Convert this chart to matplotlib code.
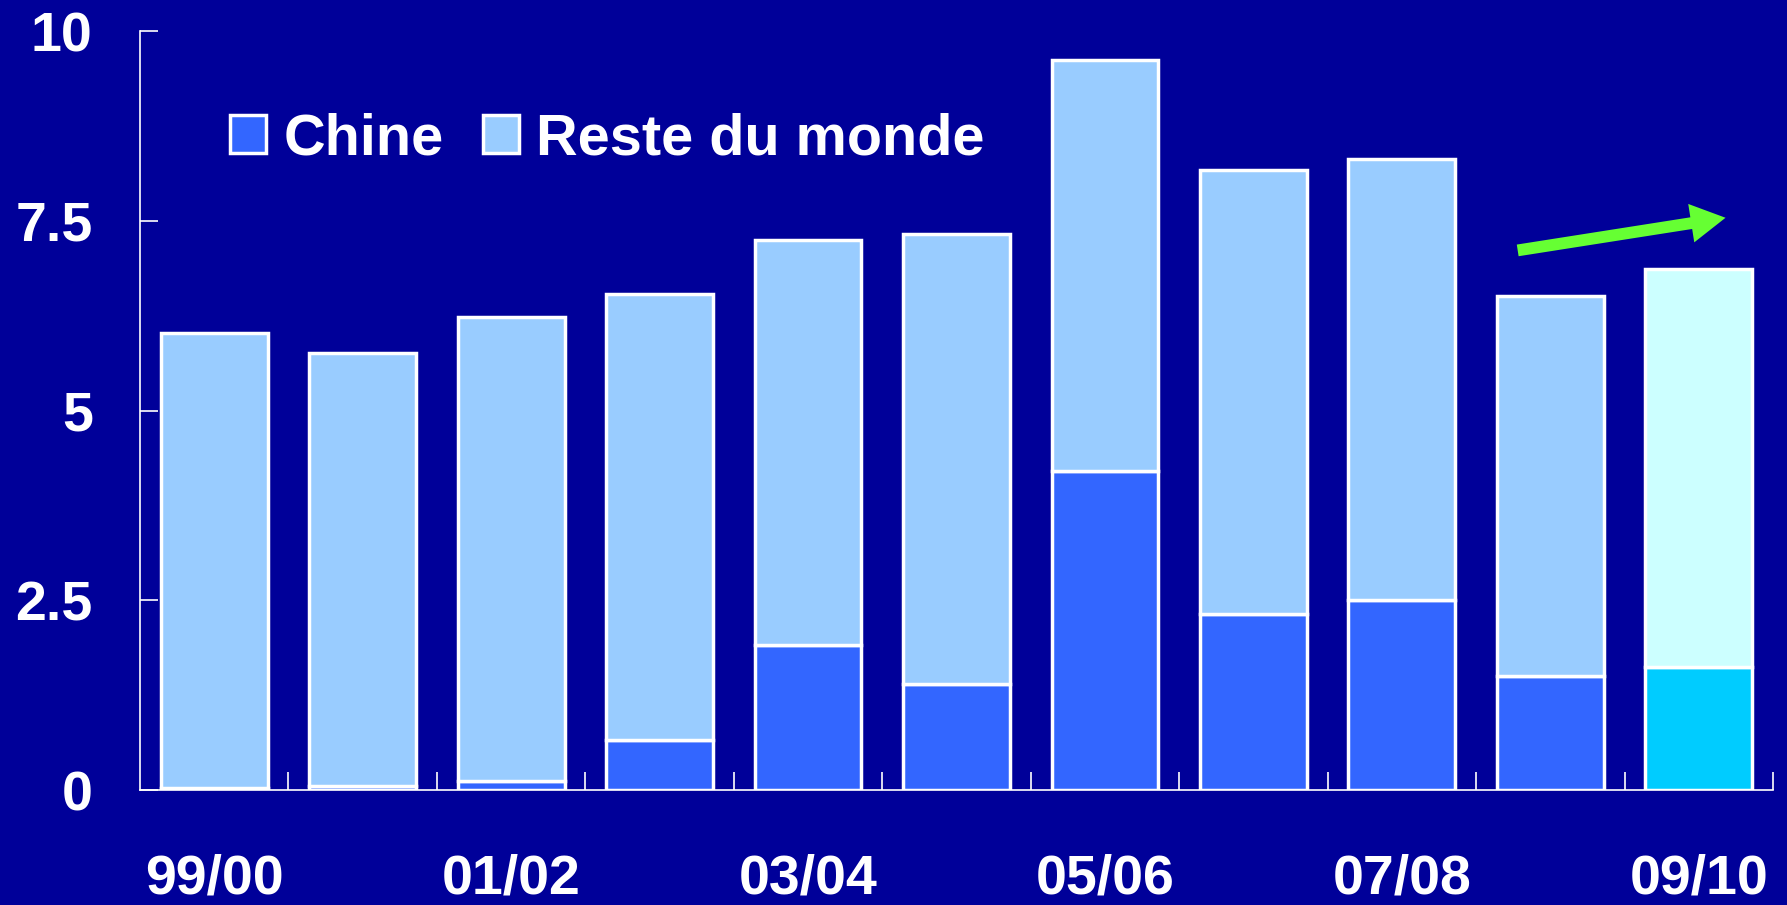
import matplotlib
matplotlib.use('Agg')
import matplotlib.pyplot as plt
import numpy as np

# %% données
campagnes = ['99/00', '00/01', '01/02', '02/03', '03/04', '04/05',
             '05/06', '06/07', '07/08', '08/09', '09/10']
chine = [0.03, 0.06, 0.12, 0.66, 1.91, 1.40, 4.20, 2.32, 2.50, 1.50, 1.62]
total = [6.02, 5.76, 6.23, 6.54, 7.25, 7.32, 9.62, 8.17, 8.32, 6.51, 6.86]
yticks = [0, 2.5, 5, 7.5, 10]
ytick_labels = ['0', '2.5', '5', '7.5', '10']
# flèche de tendance (début -> fin), en unités des axes
tendance_debut = (8.78, 7.11)
tendance_fin = (10.18, 7.54)

reste = [t - c for t, c in zip(total, chine)]

# %% couleurs
fond = '#000099'
c_chine = ['#3366FF'] * 10 + ['#00CCFF']
c_reste = ['#99CCFF'] * 10 + ['#CCFFFF']

plt.rcParams['font.family'] = ['Liberation Sans', 'DejaVu Sans']
plt.rcParams['font.weight'] = 'bold'

fig = plt.figure(figsize=(17.87, 9.05), dpi=100, facecolor=fond)
ax = fig.add_axes([0.0783, 0.127, 0.9139, 0.8387], facecolor=fond)

x = np.arange(len(campagnes))
ax.bar(x, chine, width=0.72, color=c_chine, edgecolor='white', lw=2.5,
       label='Chine', zorder=3)
ax.bar(x, reste, bottom=chine, width=0.72, color=c_reste, edgecolor='white',
       lw=2.5, label='Reste du monde', zorder=3)

ax.annotate('', xy=tendance_fin, xytext=tendance_debut,
            arrowprops=dict(arrowstyle='simple,head_width=28,head_length=25,tail_width=8.5',
                            mutation_scale=1, color='#66FF33', lw=0,
                            shrinkA=0, shrinkB=0))

ax.set_xlim(-0.5, len(campagnes) - 0.5)
ax.set_ylim(0, 10)
for s in ['top', 'right']:
    ax.spines[s].set_visible(False)
for s in ['left', 'bottom']:
    ax.spines[s].set_color('white')
    ax.spines[s].set_linewidth(1.2)

ax.set_yticks(yticks)
ax.set_yticklabels(ytick_labels)
ax.tick_params(axis='y', direction='in', length=13, width=1.2, color='white',
               labelcolor='white', labelsize=40, pad=34)

ax.set_xticks(x[::2])
ax.set_xticklabels(campagnes[::2])
ax.set_xticks(np.arange(0.5, len(campagnes)), minor=True)
ax.tick_params(axis='x', which='major', length=0, labelcolor='white',
               labelsize=40, pad=46)
ax.tick_params(axis='x', which='minor', direction='in', length=13, width=1.2,
               color='white')

leg = ax.legend(loc='center left', bbox_to_anchor=(0.055, 0.857), ncol=2,
                frameon=False, fontsize=41.5, handlelength=0.63, handleheight=0.63,
                handletextpad=0.3, columnspacing=0.68, borderpad=0,
                borderaxespad=0)
for t in leg.get_texts():
    t.set_color('white')

fig.savefig('out.png', dpi=100, facecolor=fond)
